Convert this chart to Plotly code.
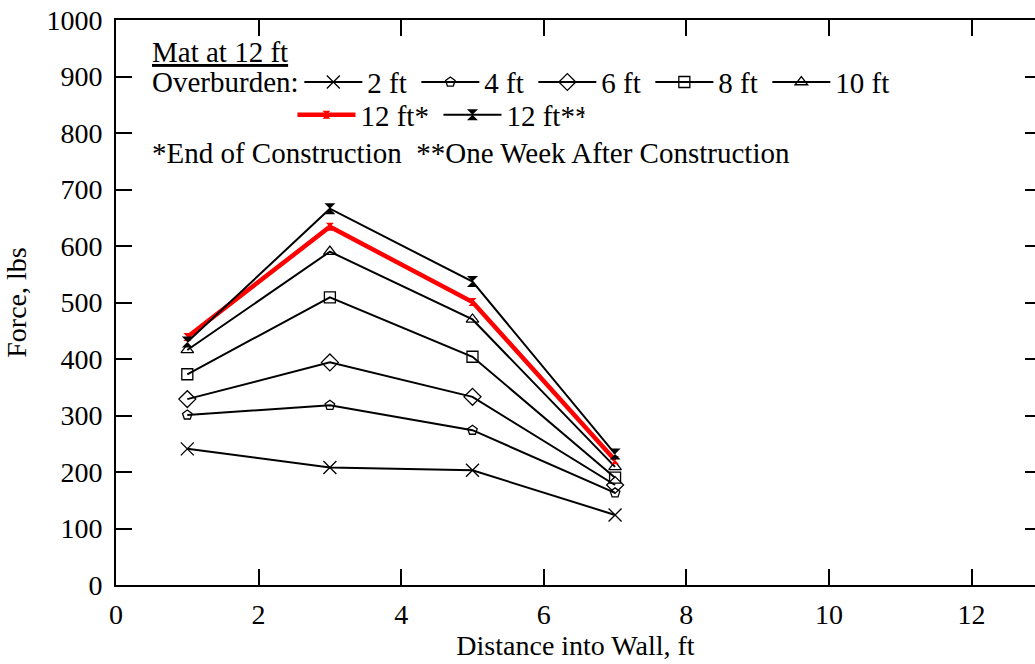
import plotly.graph_objects as go

# Distance into wall (ft) at which mat forces were recorded
distance = [1, 3, 5, 7]

# Mat force (lbs) for each overburden height
force_2ft = [241, 208, 203, 124]
force_4ft = [301, 318, 274, 163]
force_6ft = [329, 394, 333, 177]
force_8ft = [373, 509, 404, 190]
force_10ft = [416, 590, 470, 209]
force_12ft_eoc = [439, 634, 501, 221]
force_12ft_week = [430, 666, 537, 232]

series_names = ["2 ft", "4 ft", "6 ft", "8 ft", "10 ft", "12 ft*", "12 ft**"]

x_ticks = [0, 2, 4, 6, 8, 10, 12]
y_ticks = [0, 100, 200, 300, 400, 500, 600, 700, 800, 900, 1000]

FONT = "Liberation Serif, Times New Roman, serif"
FS = 28      # tick labels and axis titles
FS_KEY = 29  # key text and notes

fig = go.Figure()

black_series = [
    (force_2ft, "x-thin-open", 13),
    (force_4ft, "pentagon-open", 10),
    (force_6ft, "diamond-open", 13),
    (force_8ft, "square-open", 11),
    (force_10ft, "triangle-up-open", 11),
]
for (vals, sym, size), name in zip(black_series, series_names[:5]):
    fig.add_trace(go.Scatter(
        x=distance, y=vals, name=name, mode="lines+markers", legend="legend",
        line=dict(color="black", width=2),
        marker=dict(symbol=sym, size=size, color="black",
                    line=dict(color="black", width=1.3)),
    ))
# last key entry in the first row needs room for its wider label
fig.data[4].legendwidth = 70

fig.add_trace(go.Scatter(
    x=distance, y=force_12ft_eoc, name=series_names[5], mode="lines+markers",
    legend="legend2",
    line=dict(color="#ff0000", width=4.5),
    marker=dict(symbol="hourglass", size=8, color="#ff0000"),
))
fig.add_trace(go.Scatter(
    x=distance, y=force_12ft_week, name=series_names[6], mode="lines+markers",
    legend="legend2",
    line=dict(color="black", width=2),
    marker=dict(symbol="hourglass", size=11, color="black"),
))

# invisible trace that carries the right-hand tick marks
fig.add_trace(go.Scatter(x=[0], y=[0], yaxis="y2", showlegend=False,
                         mode="markers", marker=dict(opacity=0),
                         hoverinfo="skip"))

legend_common = dict(
    orientation="h", xanchor="left", yanchor="middle",
    font=dict(family=FONT, size=FS_KEY), itemwidth=58,
    bgcolor="rgba(0,0,0,0)", borderwidth=0,
    entrywidthmode="pixels",
)

fig.update_layout(
    width=1035, height=664,
    margin=dict(l=116, r=0, t=20, b=79),
    paper_bgcolor="white", plot_bgcolor="white",
    font=dict(family=FONT, size=FS, color="black"),
    showlegend=True,
    legend=dict(x=0.1995, y=0.890, entrywidth=44, **legend_common),
    legend2=dict(x=0.192, y=0.832, entrywidth=73, **legend_common),
    xaxis=dict(
        range=[0, 12.89], tickvals=x_ticks, ticks="inside", ticklen=16,
        tickwidth=2, tickcolor="black", showline=True, linewidth=2,
        linecolor="black", mirror="ticks", showgrid=False, zeroline=False,
        title=dict(text="Distance into Wall, ft", standoff=6,
                   font=dict(family=FONT, size=FS)),
        tickfont=dict(family=FONT, size=FS),
        ticklabelstandoff=3,
    ),
    yaxis=dict(
        range=[0, 1000], tickvals=y_ticks, ticks="inside", ticklen=16,
        tickwidth=2, tickcolor="black", showline=True, linewidth=2,
        linecolor="black", showgrid=False, zeroline=False,
        title=dict(text="Force, lbs", standoff=12,
                   font=dict(family=FONT, size=FS)),
        tickfont=dict(family=FONT, size=FS),
        ticklabelstandoff=6,
    ),
    yaxis2=dict(
        range=[0, 1000], tickvals=y_ticks, ticks="inside", ticklen=10,
        tickwidth=2, tickcolor="black", overlaying="y", side="right",
        showticklabels=False, showgrid=False, zeroline=False, showline=False,
    ),
    annotations=[
        dict(text="<u>Mat at 12 ft</u>", xref="paper", yref="paper",
             x=0.037, y=0.943, xanchor="left", yanchor="middle",
             showarrow=False, font=dict(family=FONT, size=FS_KEY)),
        dict(text="Overburden:", xref="paper", yref="paper",
             x=0.037, y=0.890, xanchor="left", yanchor="middle",
             showarrow=False, font=dict(family=FONT, size=FS_KEY)),
        dict(text="*End of Construction\u00a0\u00a0**One Week After Construction",
             xref="paper", yref="paper", x=0.037, y=0.765,
             xanchor="left", yanchor="middle",
             showarrow=False, font=dict(family=FONT, size=FS_KEY)),
    ],
)

fig.write_html("out.html")
